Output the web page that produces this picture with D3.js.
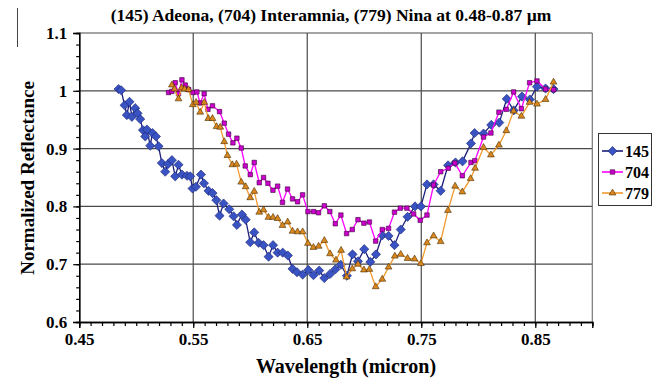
<!DOCTYPE html>
<html>
<head>
<meta charset="utf-8">
<script src="https://cdn.jsdelivr.net/npm/d3@7"></script>
<style>
  html, body { margin: 0; padding: 0; background: #fff; }
  svg { display: block; }
  text { font-family: "Liberation Serif", "Times New Roman", serif; font-weight: bold; fill: #000; }
</style>
</head>
<body>
<svg id="chart" width="666" height="380"></svg>
<script>
// Normalized reflectance spectra of three asteroids, 0.48-0.87 micron
const wl145 = [0.4845,0.4868,0.4898,0.4918,0.4941,0.4962,0.4991,0.5012,0.5035,0.5059,0.5079,0.5094,0.5123,0.5143,0.5173,0.5196,0.5225,0.5254,0.5278,0.5313,0.5342,0.5371,0.5401,0.5445,0.5474,0.5494,0.5524,0.5568,0.5594,0.5634,0.5669,0.5702,0.5731,0.5766,0.5816,0.5854,0.5883,0.5927,0.5960,0.6000,0.6035,0.6073,0.6117,0.6161,0.6200,0.6240,0.6285,0.6330,0.6371,0.6410,0.6460,0.6510,0.6555,0.6605,0.6650,0.6700,0.6746,0.6795,0.6848,0.6897,0.6945,0.7000,0.7053,0.7103,0.7158,0.7213,0.7265,0.7320,0.7380,0.7445,0.7497,0.7550,0.7608,0.7670,0.7735,0.7800,0.7862,0.7936,0.7968,0.8046,0.8114,0.8184,0.8250,0.8310,0.8383,0.8452,0.8515,0.8590,0.8660];
const refl145 = [1.003,1.001,0.975,0.958,0.981,0.955,0.970,0.961,0.951,0.932,0.921,0.933,0.905,0.927,0.921,0.904,0.875,0.860,0.873,0.880,0.852,0.872,0.855,0.853,0.852,0.831,0.834,0.855,0.840,0.827,0.823,0.811,0.784,0.805,0.795,0.783,0.768,0.786,0.777,0.738,0.755,0.737,0.733,0.713,0.733,0.720,0.720,0.715,0.692,0.686,0.682,0.690,0.681,0.689,0.676,0.683,0.691,0.699,0.680,0.717,0.705,0.726,0.704,0.717,0.750,0.749,0.733,0.760,0.782,0.800,0.800,0.838,0.838,0.827,0.871,0.876,0.878,0.909,0.927,0.926,0.941,0.945,0.986,0.966,0.990,0.985,1.007,1.004,1.003];

const wl704 = [0.5284,0.5313,0.5342,0.5371,0.5401,0.5430,0.5460,0.5497,0.5532,0.5561,0.5596,0.5629,0.5669,0.5731,0.5772,0.5810,0.5848,0.5883,0.5921,0.5956,0.6000,0.6035,0.6079,0.6117,0.6155,0.6199,0.6240,0.6283,0.6327,0.6371,0.6415,0.6459,0.6506,0.6556,0.6599,0.6650,0.6698,0.6746,0.6795,0.6845,0.6895,0.6945,0.6997,0.7045,0.7100,0.7158,0.7213,0.7265,0.7316,0.7374,0.7433,0.7491,0.7550,0.7608,0.7670,0.7737,0.7795,0.7860,0.7936,0.7970,0.8046,0.8111,0.8181,0.8246,0.8310,0.8378,0.8450,0.8515,0.8590,0.8660];
const refl704 = [0.997,0.999,1.014,0.995,1.019,1.010,1.002,0.997,0.998,0.979,0.995,0.968,0.974,0.964,0.944,0.925,0.910,0.918,0.901,0.870,0.855,0.876,0.841,0.850,0.840,0.828,0.835,0.807,0.830,0.813,0.808,0.820,0.791,0.791,0.789,0.801,0.791,0.770,0.785,0.753,0.760,0.777,0.771,0.773,0.740,0.760,0.762,0.790,0.797,0.797,0.787,0.776,0.785,0.837,0.860,0.866,0.875,0.853,0.876,0.879,0.920,0.927,0.963,0.968,0.998,0.969,1.014,1.017,1.003,1.002];

const wl779 = [0.5313,0.5336,0.5371,0.5398,0.5424,0.5459,0.5497,0.5525,0.5561,0.5597,0.5632,0.5669,0.5705,0.5737,0.5772,0.5800,0.5843,0.5880,0.5921,0.5960,0.6000,0.6035,0.6079,0.6117,0.6160,0.6200,0.6240,0.6283,0.6328,0.6371,0.6415,0.6460,0.6506,0.6554,0.6600,0.6650,0.6700,0.6752,0.6797,0.6845,0.6895,0.6945,0.6997,0.7045,0.7100,0.7158,0.7213,0.7268,0.7320,0.7380,0.7441,0.7497,0.7550,0.7608,0.7670,0.7734,0.7797,0.7860,0.7933,0.7972,0.8046,0.8111,0.8181,0.8246,0.8310,0.8378,0.8450,0.8515,0.8590,0.8660];
const refl779 = [1.010,1.003,0.986,1.005,1.003,1.002,0.976,0.980,0.963,0.980,0.952,0.952,0.938,0.937,0.912,0.888,0.872,0.873,0.842,0.834,0.815,0.826,0.790,0.794,0.781,0.781,0.779,0.767,0.773,0.757,0.756,0.756,0.736,0.729,0.731,0.741,0.718,0.707,0.724,0.678,0.692,0.700,0.690,0.691,0.661,0.674,0.695,0.714,0.717,0.710,0.709,0.701,0.737,0.749,0.739,0.793,0.835,0.825,0.848,0.866,0.902,0.889,0.906,0.931,0.965,0.956,0.980,0.977,0.985,1.015];

const seriesNames = ["145", "704", "779"];
const xMajorTicks = [0.45, 0.55, 0.65, 0.75, 0.85];
const yMajorTicks = [0.6, 0.7, 0.8, 0.9, 1.0, 1.1];
const titleText = "(145) Adeona, (704) Interamnia, (779) Nina at 0.48-0.87 \u00b5m";
const xTitle = "Wavelength (micron)";
const yTitle = "Normalized Reflectance";

// square rotated 45 degrees (equal width and height)
const rhombus = {
  draw(ctx, size) {
    const r = Math.sqrt(size / 2);
    ctx.moveTo(0, -r); ctx.lineTo(r, 0); ctx.lineTo(0, r); ctx.lineTo(-r, 0); ctx.closePath();
  }
};

const series = [
  { name: seriesNames[0], wl: wl145, refl: refl145, line: "#1b1f7a", fill: "#3953c2", stroke: "#1a2170", symbol: rhombus, size: 42 },
  { name: seriesNames[1], wl: wl704, refl: refl704, line: "#ff00ff", fill: "#cc00cc", stroke: "#3a003a", symbol: d3.symbolSquare, size: 20 },
  { name: seriesNames[2], wl: wl779, refl: refl779, line: "#f29a2e", fill: "#d9871f", stroke: "#4a2e00", symbol: d3.symbolTriangle, size: 20 }
];

const svg = d3.select("#chart");
const plot = { left: 79.2, right: 592.3, top: 33, bottom: 322 };

const x = d3.scaleLinear().domain([0.45, 0.9]).range([plot.left, plot.right]);
const y = d3.scaleLinear().domain([0.6, 1.1]).range([plot.bottom, plot.top]);

// frame edge at the far left of the figure
svg.append("line").attr("x1", 17.5).attr("x2", 17.5).attr("y1", 8).attr("y2", 47)
  .attr("stroke", "#444").attr("stroke-width", 1);

// gridlines
const grid = svg.append("g").attr("stroke", "#4a4a4a").attr("stroke-width", 1.2);
grid.selectAll("line.vx").data([0.55, 0.65, 0.75, 0.85]).join("line")
  .attr("x1", d => x(d)).attr("x2", d => x(d)).attr("y1", plot.top).attr("y2", plot.bottom);
grid.selectAll("line.hy").data([0.7, 0.8, 0.9, 1.0, 1.1]).join("line")
  .attr("x1", plot.left).attr("x2", plot.right).attr("y1", d => y(d)).attr("y2", d => y(d));
svg.append("line").attr("x1", plot.right).attr("x2", plot.right).attr("y1", plot.top).attr("y2", plot.bottom)
  .attr("stroke", "#777").attr("stroke-width", 1.2);

// x axis: minor ticks every 0.01, labelled majors every 0.1
const xMinor = d3.axisBottom(x).tickValues(d3.range(45, 91).map(v => v / 100)).tickSize(4).tickFormat("");
const gxm = svg.append("g").attr("transform", `translate(0,${plot.bottom})`).call(xMinor);
const xAxis = d3.axisBottom(x).tickValues(xMajorTicks).tickSize(6).tickPadding(5).tickFormat(d3.format(".2f"));
const gx = svg.append("g").attr("transform", `translate(0,${plot.bottom})`).call(xAxis);
gx.selectAll("text").style("font-size", "17px");

// y axis
const yMinor = d3.axisLeft(y).tickValues(d3.range(30, 56).map(v => v / 50)).tickSize(3).tickFormat("");
const gym = svg.append("g").attr("transform", `translate(${plot.left},0)`).call(yMinor);
const yAxis = d3.axisLeft(y).tickValues(yMajorTicks).tickSize(6).tickPadding(6).tickFormat(d => String(+d.toFixed(2)));
const gy = svg.append("g").attr("transform", `translate(${plot.left},0)`).call(yAxis);
gy.selectAll("text").style("font-size", "17px");

[gx, gxm, gy, gym].forEach(g => {
  g.select(".domain").attr("stroke", "#000").attr("stroke-width", 1.4);
  g.selectAll(".tick line").attr("stroke", "#000").attr("stroke-width", 1.2);
});
gx.selectAll("text").attr("fill", "#000").style("font-family", "Liberation Serif").style("font-weight", "bold");
gy.selectAll("text").attr("fill", "#000").style("font-family", "Liberation Serif").style("font-weight", "bold");

// series lines and markers
const lineGen = d3.line().x(d => x(d[0])).y(d => y(d[1]));
series.forEach(s => {
  const pts = s.wl.map((w, i) => [w, s.refl[i]]);
  const g = svg.append("g");
  g.append("path").datum(pts).attr("d", lineGen)
    .attr("fill", "none").attr("stroke", s.line).attr("stroke-width", 1.3);
  g.selectAll("path.m").data(pts).join("path").attr("class", "m")
    .attr("transform", d => `translate(${x(d[0])},${y(d[1])})`)
    .attr("d", d3.symbol().type(s.symbol).size(s.size))
    .attr("fill", s.fill).attr("stroke", s.stroke).attr("stroke-width", 0.6);
});

// titles
svg.append("text").attr("x", 331).attr("y", 21).attr("text-anchor", "middle")
  .style("font-size", "17.5px").text(titleText);
svg.append("text").attr("x", 346).attr("y", 373).attr("text-anchor", "middle")
  .style("font-size", "20px").text(xTitle);
svg.append("text").attr("transform", "translate(34,178) rotate(-90)").attr("text-anchor", "middle")
  .style("font-size", "19px").text(yTitle);

// legend
const lg = svg.append("g").attr("transform", "translate(598,133)");
lg.append("rect").attr("x", 0.5).attr("y", 0.5).attr("width", 53).attr("height", 72)
  .attr("fill", "#fff").attr("stroke", "#333").attr("stroke-width", 1);
series.forEach((s, i) => {
  const cy = 18 + i * 21;
  lg.append("line").attr("x1", 4).attr("x2", 25).attr("y1", cy).attr("y2", cy)
    .attr("stroke", s.line).attr("stroke-width", 1.6);
  lg.append("path").attr("transform", `translate(14.5,${cy})`)
    .attr("d", d3.symbol().type(s.symbol).size(s.size))
    .attr("fill", s.fill).attr("stroke", s.stroke).attr("stroke-width", 0.6);
  lg.append("text").attr("x", 27).attr("y", cy + 5.5).style("font-size", "16px").text(s.name);
});
</script>
</body>
</html>
